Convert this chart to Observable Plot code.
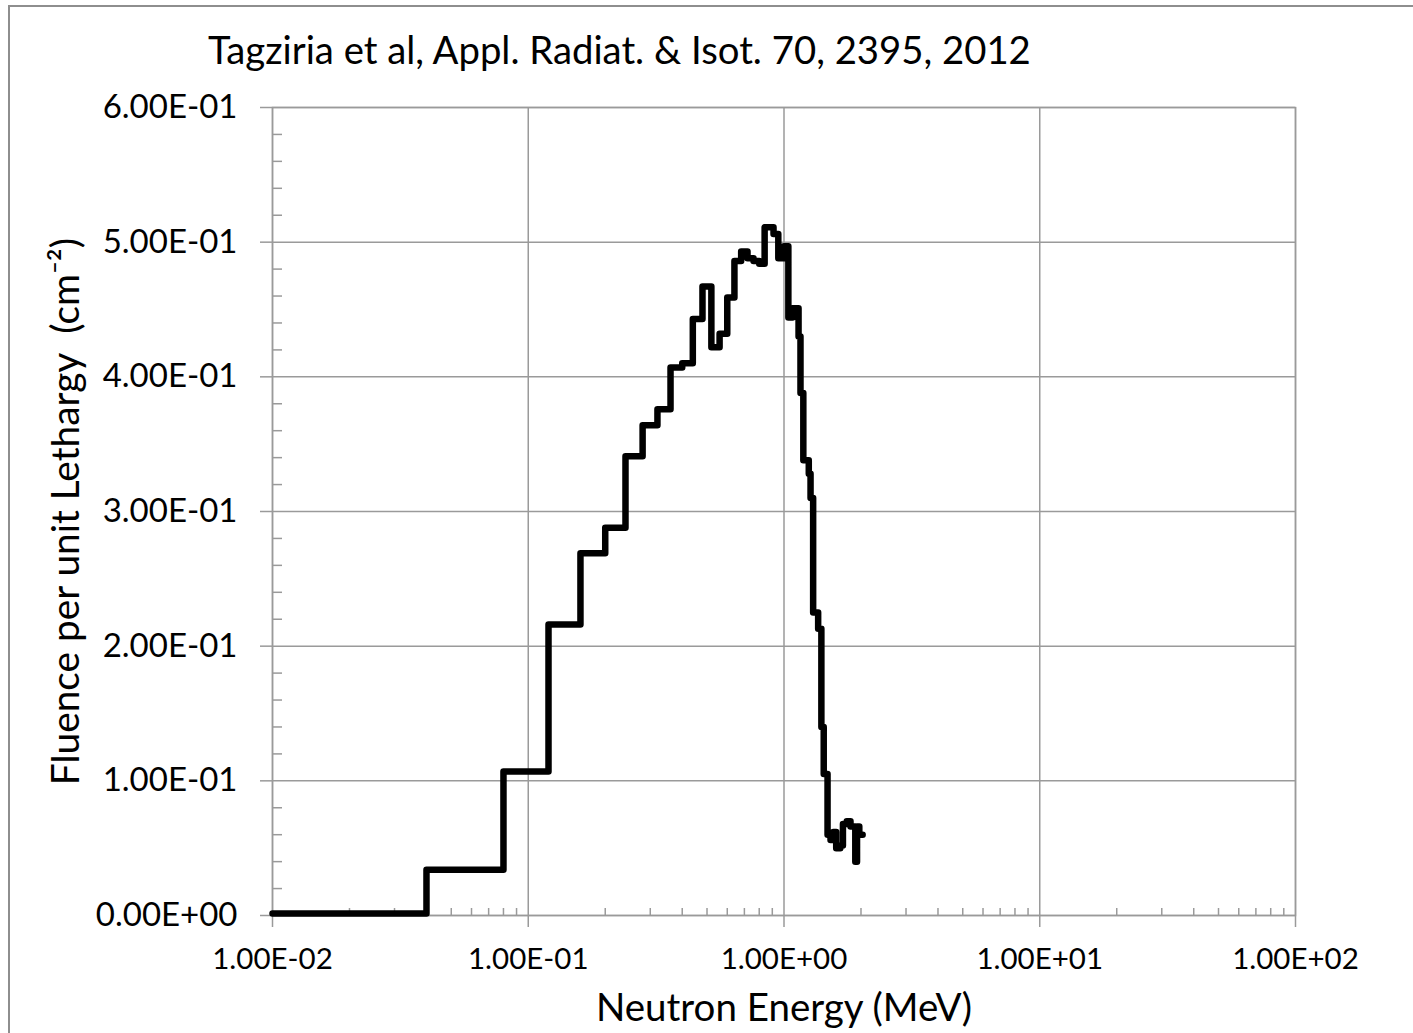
<!DOCTYPE html>
<html>
<head>
<meta charset="utf-8">
<script src="https://cdn.jsdelivr.net/npm/d3@7"></script>
<script src="https://cdn.jsdelivr.net/npm/@observablehq/plot@0.6"></script>
<style>
  html { margin: 0; padding: 0; background: #fff; overflow: hidden; }
  body { margin: 0; padding: 0; background: #fff; width: 1413px; height: 1033px; position: relative; overflow: hidden; font-family: Lato, "Open Sans", sans-serif; }
  #bl { position: absolute; left: 8px; top: 5px; width: 2px; height: 1028px; background: #8e8e8e; }
  #bt { position: absolute; left: 8px; top: 5px; width: 1405px; height: 2px; background: #8e8e8e; }
  #title { position: absolute; left: 208px; top: 26px; font-size: 38.3px; line-height: 46px; color: #000; white-space: nowrap; }
  #chart { position: absolute; left: 0; top: 80px; width: 1413px; height: 953px; }
  #chart svg { display: block; }
  #chart svg g[aria-label="y-axis label"] text { font-size: 38.8px; }
  #chart svg g[aria-label="x-axis label"] text { font-size: 38.5px; }
</style>
</head>
<body>
<div id="bl"></div>
<div id="bt"></div>
<div id="title">Tagziria et al, Appl. Radiat. &amp; Isot. 70, 2395, 2012</div>
<div id="chart"></div>
<script>
// Bin lower edges (MeV) for a step-after curve; last entry is the upper edge of the final bin
const energy = [0.01, 0.04, 0.08, 0.12, 0.16, 0.20, 0.24, 0.28, 0.32, 0.36, 0.40, 0.44, 0.48, 0.52, 0.56, 0.60, 0.64, 0.68, 0.72, 0.76, 0.80, 0.84, 0.91, 0.95, 1.00, 1.04, 1.08, 1.14, 1.16, 1.19, 1.25, 1.27, 1.30, 1.36, 1.40, 1.43, 1.48, 1.52, 1.56, 1.60, 1.66, 1.70, 1.76, 1.82, 1.90, 1.93, 1.97, 2.03];
const fluence = [0.0015, 0.034, 0.107, 0.216, 0.269, 0.288, 0.341, 0.364, 0.376, 0.407, 0.410, 0.443, 0.467, 0.422, 0.432, 0.459, 0.486, 0.493, 0.488, 0.486, 0.484, 0.511, 0.506, 0.488, 0.497, 0.444, 0.451, 0.430, 0.388, 0.338, 0.328, 0.310, 0.225, 0.213, 0.140, 0.105, 0.060, 0.056, 0.062, 0.050, 0.052, 0.068, 0.070, 0.066, 0.040, 0.066, 0.060, 0.060];

const xMajorTicks = [0.01, 0.1, 1, 10, 100];
const yMajorTicks = [0, 0.1, 0.2, 0.3, 0.4, 0.5, 0.6];
const xMinorTicks = [];
for (const dec of [0.01, 0.1, 1, 10]) for (let m = 2; m <= 9; m++) xMinorTicks.push(+(m * dec).toPrecision(3));
const yMinorTicks = d3.range(0, 61, 2).map(v => v / 100).filter(v => Math.round(v * 100) % 10 !== 0);

const data = energy.map((e, i) => ({energy: e, fluence: fluence[i]}));

const fmt = d => {
  const [m, e] = d.toExponential(2).toUpperCase().split("E");
  const n = +e;
  return m + "E" + (n < 0 ? "-" : "+") + String(Math.abs(n)).padStart(2, "0");
};

const gray = "#9a9a9a";

const chart = Plot.plot({
  width: 1413,
  height: 953,
  marginTop: 27,
  marginBottom: 118,
  marginLeft: 272,
  marginRight: 118,
  style: {fontFamily: "Lato, 'Open Sans', sans-serif", color: "#000", background: "transparent"},
  x: {type: "log", domain: [0.01, 100]},
  y: {domain: [0, 0.6]},
  marks: [
    Plot.gridX(xMajorTicks, {stroke: gray, strokeOpacity: 1, strokeWidth: 1.5}),
    Plot.gridY(yMajorTicks, {stroke: gray, strokeOpacity: 1, strokeWidth: 1.5}),
    Plot.frame({stroke: gray, strokeWidth: 1.5}),
    Plot.axisX(xMinorTicks, {tickSize: 7, dy: -7, tickFormat: () => "", stroke: gray, strokeWidth: 1.5, label: null}),
    Plot.axisY(yMinorTicks, {tickSize: 10, dx: 10, tickFormat: () => "", stroke: gray, strokeWidth: 1.5, label: null}),
    Plot.axisX(xMajorTicks, {
      tickSize: 12, tickPadding: 21, tickFormat: fmt, fontSize: 29.5, stroke: gray, strokeWidth: 1.5,
      label: "Neutron Energy (MeV)", labelAnchor: "center", labelArrow: "none", labelOffset: 105
    }),
    Plot.axisY(yMajorTicks, {
      tickSize: 12, tickPadding: 23, tickFormat: fmt, fontSize: 33, stroke: gray, strokeWidth: 1.5,
      label: "Fluence per unit Lethargy  (cm⁻²)", labelAnchor: "center", labelArrow: "none", labelOffset: 221
    }),
    Plot.line(data, {x: "energy", y: "fluence", curve: "step-after", stroke: "#000", strokeWidth: 6.5, strokeLinejoin: "round", strokeLinecap: "round"})
  ]
});
document.getElementById("chart").appendChild(chart);
</script>
</body>
</html>
